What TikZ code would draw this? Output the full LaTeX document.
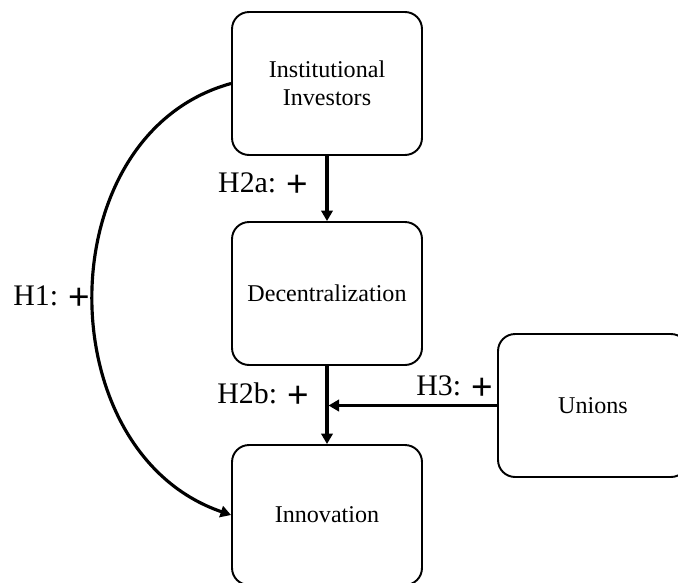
\documentclass[tikz,border=0pt]{standalone}
\usepackage{fontspec}
\setmainfont{Liberation Serif}
\newfontfamily\plusfont{Liberation Sans}
\usetikzlibrary{arrows.meta}
\newcommand{\myplus}{\raisebox{-2.2pt}{\plusfont\fontsize{21}{21}\selectfont +}}
\begin{document}
\begin{tikzpicture}[x=0.02cm,y=-0.02cm,
  box/.style={draw,rounded corners=0.34cm,line width=1.1pt,minimum width=3.8cm,
    minimum height=2.86cm,inner sep=0pt,align=center,
    font=\fontsize{13.7}{16}\selectfont},
  link/.style={line width=1.8pt,-{Triangle[length=6pt,width=6.5pt]}},
  hlabel/.style={font=\fontsize{17}{17}\selectfont,inner sep=0pt}]
\useasboundingbox (0,0) rectangle (678,582);
\node[box] (inv) at (327,83.5) {Institutional\\Investors};
\node[box] (dec) at (327,293.5) {Decentralization};
\node[box,minimum height=2.8cm] (inn) at (327,515) {Innovation};
\node[box] (uni) at (593,405.5) {Unions};
\coordinate (j) at (328.5,405.5);
\draw[link] (inv) -- (dec);
\draw[link] (dec) -- (inn);
\draw[link] (uni.west) -- (j);
\draw[link] (inv.west) .. controls (47,134) and (47,452) .. (inn.west);
\node[hlabel] (h2a) at (263,185) {H2a: \myplus};
\node[hlabel] (h2b) at (263,395) {H2b: \myplus};
\node[hlabel] (h3) at (454.5,388) {H3: \myplus};
\node[hlabel] (h1) at (51.5,298) {H1: \myplus};
\end{tikzpicture}
\end{document}
